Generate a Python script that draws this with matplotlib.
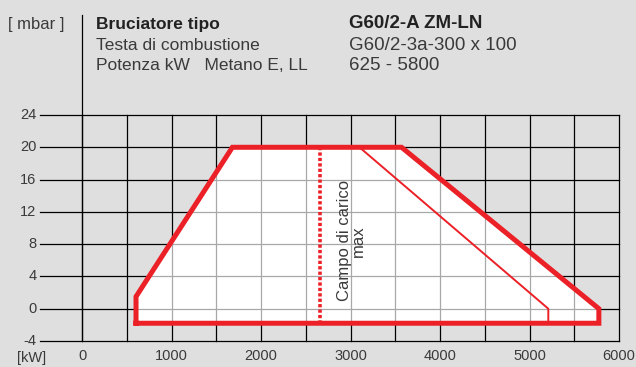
import matplotlib.pyplot as plt
from matplotlib.patches import Polygon

plt.rcParams['font.family'] = ['Liberation Sans', 'DejaVu Sans']

# campo di lavoro (kW, mbar)
envelope_kw = [603, 603, 1680, 3570, 5775, 5775, 603]
envelope_mbar = [-1.8, 1.5, 20, 20, 0, -1.8, -1.8]
inner_kw = [3100, 5210, 5210]
inner_mbar = [20, 0, -1.8]
max_load_kw = [2660, 2660]
max_load_mbar = [20, -1.8]

x_ticks = [0, 1000, 2000, 3000, 4000, 5000, 6000]
x_grid = [0, 500, 1000, 1500, 2000, 2500, 3000, 3500, 4000, 4500, 5000, 5500, 6000]
y_ticks = [-4, 0, 4, 8, 12, 16, 20, 24]

bg = '#dfdfdf'
red = '#ec2027'
txt = '#3a3a3a'

fig = plt.figure(figsize=(6.36, 3.67), dpi=100, facecolor=bg)
ax = fig.add_axes([40 / 636, 26 / 367, 579 / 636, 226 / 367])
ax.set_facecolor(bg)
ax.set_xlim(-470, 6000)
ax.set_ylim(-4, 24)
for s in ax.spines.values():
    s.set_visible(False)
ax.set_xticks([])
ax.set_yticks([])

# griglia nera
for y in y_ticks:
    ax.plot([-470, 6000], [y, y], color='black', lw=0.9, clip_on=False, zorder=1)
for x in x_grid:
    ax.plot([x, x], [-4, 24], color='black', lw=0.9, clip_on=False, zorder=1)
ax.plot([0, 0], [-4, 36.4], color='black', lw=0.9, clip_on=False, zorder=1)

# area bianca con griglia grigia
poly = Polygon(list(zip(envelope_kw, envelope_mbar)), closed=True,
               facecolor='white', edgecolor='none', zorder=2)
ax.add_patch(poly)
for y in y_ticks:
    l, = ax.plot([-470, 6000], [y, y], color='#a8a8a8', lw=0.9, zorder=3)
    l.set_clip_path(poly)
for x in x_grid:
    l, = ax.plot([x, x], [-4, 24], color='#a8a8a8', lw=0.9, zorder=3)
    l.set_clip_path(poly)

ax.plot(envelope_kw, envelope_mbar, color=red, lw=3.6, solid_joinstyle='miter',
        clip_on=False, zorder=5)
ax.plot(inner_kw, inner_mbar, color=red, lw=1.4, zorder=4)
ax.plot(max_load_kw, max_load_mbar, color=red, lw=2.6, linestyle=(0, (0.9, 0.6)), zorder=4)

ax.text(3010, 8.4, 'Campo di carico\nmax', rotation=90, ha='center', va='center',
        fontsize=12, color=txt, linespacing=0.92, zorder=6)

# etichette assi
for y in y_ticks:
    ax.text(-510, y, str(y), ha='right', va='center', fontsize=10.5, color=txt)
for x in x_ticks:
    ax.text(x, -5.0, str(x), ha='center', va='top', fontsize=10.5, color=txt)
fig.text(17 / 636, 1 - 358 / 367, '[kW]', ha='left', va='center', fontsize=10.5, color=txt)

# intestazione
fig.text(8 / 636, 1 - 24 / 367, '[ mbar ]', ha='left', va='center', fontsize=12, color=txt)
fig.text(96 / 636, 1 - 24 / 367, 'Bruciatore tipo', ha='left', va='center',
         fontsize=12.5, fontweight='bold', color='#222222')
fig.text(96 / 636, 1 - 45 / 367, 'Testa di combustione', ha='left', va='center',
         fontsize=12.5, color=txt)
fig.text(96 / 636, 1 - 65 / 367, 'Potenza kW   Metano E, LL', ha='left', va='center',
         fontsize=12.5, color=txt)
fig.text(349 / 636, 1 - 24 / 367, 'G60/2-A ZM-LN', ha='left', va='center',
         fontsize=13.5, fontweight='bold', color='#222222')
fig.text(349 / 636, 1 - 45 / 367, 'G60/2-3a-300 x 100', ha='left', va='center',
         fontsize=13.5, color=txt)
fig.text(349 / 636, 1 - 65 / 367, '625 - 5800', ha='left', va='center',
         fontsize=13.5, color=txt)

fig.savefig('out.png', dpi=100, facecolor=bg)
